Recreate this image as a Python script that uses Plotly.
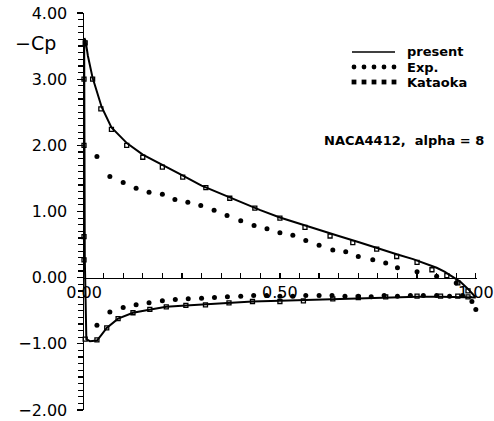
import plotly.graph_objects as go

# ---------------- data ----------------
present_upper_x = [1.00, 0.98, 0.96, 0.94, 0.92, 0.90, 0.87, 0.84, 0.80, 0.75, 0.70, 0.65, 0.60,
                   0.55, 0.50, 0.45, 0.40, 0.35, 0.30, 0.25, 0.20, 0.15, 0.11, 0.07, 0.045,
                   0.022, 0.010, 0.004, 0.001]
present_upper_y = [-0.30, -0.17, -0.06, 0.02, 0.09, 0.15, 0.22, 0.28, 0.35, 0.45, 0.54, 0.63, 0.72,
                   0.81, 0.91, 1.02, 1.14, 1.26, 1.39, 1.55, 1.70, 1.86, 2.03, 2.27, 2.58,
                   3.02, 3.35, 3.58, 3.62]
present_lower_x = [0.0005, 0.002, 0.006, 0.015, 0.033, 0.045, 0.058, 0.087, 0.125, 0.17, 0.21, 0.26,
                   0.31, 0.37, 0.43, 0.50, 0.56, 0.63, 0.70, 0.77, 0.85, 0.91, 0.95, 0.98, 1.00]
present_lower_y = [3.40, 0.30, -0.93, -0.96, -0.95, -0.86, -0.76, -0.62, -0.53, -0.48, -0.44, -0.42,
                   -0.40, -0.38, -0.36, -0.35, -0.34, -0.32, -0.31, -0.30, -0.29, -0.29, -0.29, -0.30, -0.30]

exp_upper_x = [0.033, 0.066, 0.10, 0.133, 0.166, 0.20, 0.232, 0.265, 0.298, 0.332, 0.365, 0.40,
               0.434, 0.467, 0.50, 0.533, 0.566, 0.60, 0.635, 0.668, 0.70, 0.737, 0.77, 0.80,
               0.85, 0.90, 0.95]
exp_upper_y = [1.83, 1.53, 1.44, 1.35, 1.29, 1.26, 1.18, 1.14, 1.09, 1.02, 0.94, 0.86,
               0.79, 0.74, 0.68, 0.64, 0.56, 0.49, 0.42, 0.39, 0.32, 0.27, 0.22, 0.15,
               0.09, 0.02, -0.08]
exp_lower_x = [0.033, 0.066, 0.10, 0.133, 0.166, 0.20, 0.233, 0.266, 0.30, 0.333, 0.366, 0.40,
               0.433, 0.466, 0.50, 0.533, 0.566, 0.60, 0.633, 0.666, 0.70, 0.733, 0.766, 0.80,
               0.833, 0.866, 0.90, 0.933, 0.966, 0.99, 1.00]
exp_lower_y = [-0.72, -0.52, -0.45, -0.41, -0.38, -0.35, -0.33, -0.32, -0.31, -0.30, -0.29, -0.28,
               -0.27, -0.27, -0.28, -0.28, -0.27, -0.27, -0.27, -0.28, -0.28, -0.29, -0.27, -0.28,
               -0.27, -0.27, -0.27, -0.28, -0.27, -0.36, -0.48]

kat_upper_x = [0.003, 0.022, 0.043, 0.07, 0.109, 0.15, 0.20, 0.252, 0.311, 0.372, 0.436, 0.50,
               0.564, 0.628, 0.686, 0.747, 0.798, 0.85, 0.888, 0.926, 0.954, 0.98]
kat_upper_y = [3.55, 3.00, 2.55, 2.24, 2.00, 1.82, 1.67, 1.52, 1.36, 1.20, 1.05, 0.90,
               0.76, 0.63, 0.53, 0.43, 0.32, 0.23, 0.12, 0.03, -0.08, -0.20]
kat_lower_x = [0.0, 0.0, 0.0, 0.0, 0.003, 0.033, 0.058, 0.087, 0.125, 0.168, 0.21, 0.26, 0.31,
               0.37, 0.43, 0.50, 0.56, 0.635, 0.70, 0.77, 0.85, 0.91, 0.954, 0.98]
kat_lower_y = [3.00, 2.00, 0.62, 0.27, -0.93, -0.94, -0.76, -0.62, -0.53, -0.48, -0.44, -0.42, -0.41,
               -0.38, -0.36, -0.36, -0.35, -0.32, -0.30, -0.29, -0.28, -0.28, -0.28, -0.29]

y_ticks = [-2, -1, 0, 1, 2, 3, 4]
y_tick_labels = ["\u22122.00", "\u22121.00", "0.00", "1.00", "2.00", "3.00", "4.00"]
x_ticks = [0, 0.5, 1.0]
x_tick_labels = ["0.00", "0.50", "1.00"]

# ---------------- figure ----------------
W, H = 494, 421
# plot area in page pixels: x 84..477, y 13..410
ML, MR, MT, MB = 84, W - 477, 13, H - 410
PW, PH = W - ML - MR, H - MT - MB

def px2paper_x(px):          # page pixel -> paper fraction
    return (px - ML) / PW

def px2paper_y(py):
    return (H - MB - py) / PH

fig = go.Figure()

fig.add_trace(go.Scatter(
    x=present_upper_x + present_lower_x,
    y=present_upper_y + present_lower_y,
    mode="lines", line=dict(color="black", width=2),
    name="present", showlegend=False, cliponaxis=False))

fig.add_trace(go.Scatter(
    x=exp_upper_x + exp_lower_x, y=exp_upper_y + exp_lower_y,
    mode="markers", marker=dict(symbol="circle", size=5, color="black"),
    name="Exp.", showlegend=False, cliponaxis=False))

fig.add_trace(go.Scatter(
    x=kat_upper_x + kat_lower_x, y=kat_upper_y + kat_lower_y,
    mode="markers",
    marker=dict(symbol="square-open", size=4, color="black", line=dict(width=1.3, color="black")),
    name="Kataoka", showlegend=False, cliponaxis=False))

tick_font = dict(family="DejaVu Sans", size=16, color="black")

fig.update_layout(
    template="none",
    width=W, height=H,
    margin=dict(l=ML, r=MR, t=MT, b=MB, pad=0),
    paper_bgcolor="white", plot_bgcolor="white",
    showlegend=False,
    xaxis=dict(
        range=[0, 1.003], anchor="free", position=1/3, automargin=False,
        showline=True, linecolor="black", linewidth=1.5,
        showgrid=False, zeroline=False,
        ticks="inside", ticklen=5, tickwidth=1.2, tickcolor="black",
        tickvals=x_ticks, ticktext=x_tick_labels, tickfont=tick_font,
        ticklabeloverflow="allow",
        minor=dict(dtick=0.05, tick0=0, ticks="inside", ticklen=5, tickwidth=1.2,
                   tickcolor="black", showgrid=False),
    ),
    yaxis=dict(
        range=[-2, 4], domain=[0, 1], automargin=False,
        showline=True, linecolor="black", linewidth=1.5,
        showgrid=False, zeroline=False,
        ticks="outside", ticklen=6, tickwidth=1.2, tickcolor="black",
        tickvals=y_ticks, ticktext=y_tick_labels, tickfont=tick_font,
        ticklabelstandoff=6, ticklabeloverflow="allow",
        minor=dict(dtick=0.1, tick0=0, ticks="outside", ticklen=5, tickwidth=1.2,
                   tickcolor="black", showgrid=False),
    ),
)

# ---------------- hand-drawn legend ----------------
leg_x0, leg_x1 = 352, 395
rows_py = [52, 67, 82]
fig.add_shape(type="line", xref="paper", yref="paper",
              x0=px2paper_x(leg_x0), x1=px2paper_x(leg_x1),
              y0=px2paper_y(rows_py[0]), y1=px2paper_y(rows_py[0]),
              line=dict(color="black", width=1.5))
dot_r = 2.4
for i in range(5):
    cx = leg_x0 + 2 + i * 10
    fig.add_shape(type="circle", xref="paper", yref="paper",
                  x0=px2paper_x(cx - dot_r), x1=px2paper_x(cx + dot_r),
                  y0=px2paper_y(rows_py[1] + dot_r), y1=px2paper_y(rows_py[1] - dot_r),
                  fillcolor="black", line=dict(width=0))
    fig.add_shape(type="rect", xref="paper", yref="paper",
                  x0=px2paper_x(cx - dot_r), x1=px2paper_x(cx + dot_r),
                  y0=px2paper_y(rows_py[2] + dot_r), y1=px2paper_y(rows_py[2] - dot_r),
                  fillcolor="black", line=dict(width=0))

leg_font = dict(family="DejaVu Sans", size=13, color="black")
for label, py in zip(["<b>present</b>", "<b>Exp.</b>", "<b>Kataoka</b>"], rows_py):
    fig.add_annotation(text=label, xref="paper", yref="paper",
                       x=px2paper_x(405), y=px2paper_y(py),
                       xanchor="left", yanchor="middle", showarrow=False, font=leg_font)

fig.add_annotation(text="<b>NACA4412,  alpha = 8</b>", xref="paper", yref="paper",
                   x=px2paper_x(404), y=px2paper_y(140),
                   xanchor="center", yanchor="middle", showarrow=False, font=leg_font)

fig.add_annotation(text="\u2212Cp", xref="paper", yref="paper",
                   x=px2paper_x(35), y=px2paper_y(43),
                   xanchor="center", yanchor="middle", showarrow=False,
                   font=dict(family="DejaVu Sans", size=19, color="black"))

# remove the default 8px page margin so the figure sits at the window's top-left corner
fig.write_html("out.html",
               config={"displayModeBar": False, "staticPlot": True},
               post_script="document.body.style.margin='0';document.body.style.overflow='hidden';")
